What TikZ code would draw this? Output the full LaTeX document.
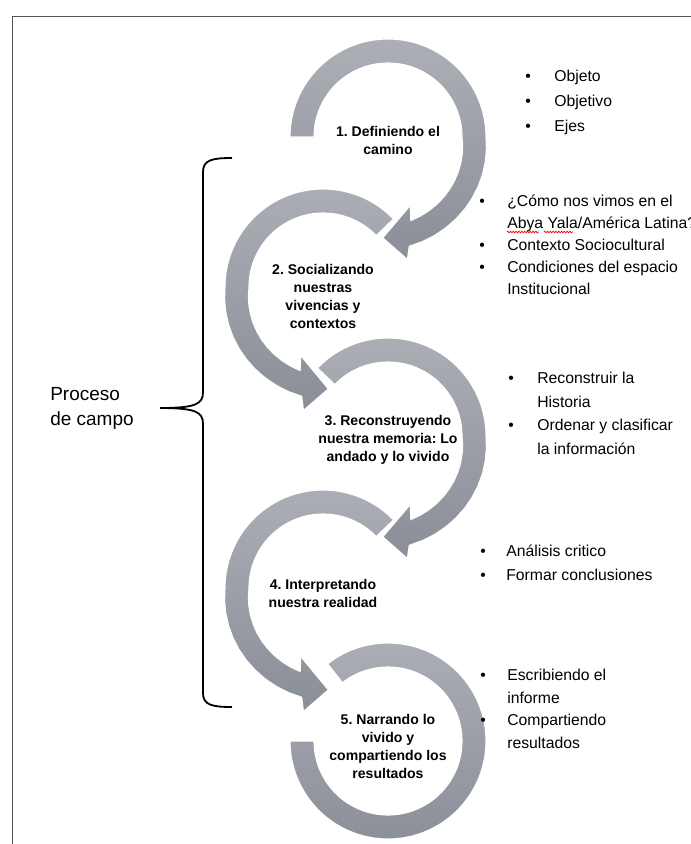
\documentclass[tikz,border=0pt]{standalone}
\usepackage{fontspec}
\setmainfont{Liberation Sans}
\usetikzlibrary{positioning,decorations.pathmorphing}
\definecolor{grisclaro}{RGB}{172,175,182}
\definecolor{grisoscuro}{RGB}{138,142,151}
\definecolor{marco}{RGB}{85,85,85}
\newcommand{\vin}[1][0.7cm]{\makebox[#1][l]{\textbullet}}
\newcommand{\sinvin}[1][0.7cm]{\hspace*{#1}}
\frenchspacing
\begin{document}
\begin{tikzpicture}[x=0.025cm, y=0.025cm,
    anillo/.style={top color=grisclaro, bottom color=grisoscuro, draw=white, line width=0.8pt},
    paso/.style={font=\fontsize{10}{12.8}\selectfont\bfseries, align=center, inner sep=0pt},
    lista/.style={font=\fontsize{11.2}{15.6}\selectfont, align=left, anchor=north west, inner sep=0pt},
    ortografia/.style={red, line width=0.5pt, decorate, decoration={zigzag, amplitude=0.6pt, segment length=2pt}}]
    \useasboundingbox (0,0) rectangle (691,-844);
    \fill[white] (0,0) rectangle (691,-844);
    \clip (0,0) rectangle (691,-844);
    \draw[marco, line width=0.7pt] (12,-860) -- (12,-16) -- (720,-16);
    %rings, from the bottom up
    \begin{scope}[shift={(388,-741)}]
        \path[anillo] (128:98) arc[start angle=128, end angle=-180, radius=98] -- (180:74) arc[start angle=-180, end angle=128, radius=74] -- cycle;
    \end{scope}
    \begin{scope}[shift={(323,-588)}]
        \path[anillo] (44:98) arc[start angle=44, end angle=180, radius=98] -- plot[domain=180:259, samples=12] (\x:{98+13*(\x-180)/77}) -- (261:125) -- (273:102) -- (252:72) -- plot[domain=254.7:180, samples=12] (\x:{74+13*(\x-180)/77}) arc[start angle=180, end angle=44, radius=74] -- cycle;
    \end{scope}
    \begin{scope}[shift={(388,-436)}]
        \path[anillo] (136:98) arc[start angle=136, end angle=0, radius=98] -- plot[domain=0:-79, samples=12] (\x:{98-13*\x/77}) -- (-81:124) -- (-93:101) -- (-72:72) -- plot[domain=-74.7:0, samples=12] (\x:{74-13*\x/77}) arc[start angle=0, end angle=136, radius=74] -- cycle;
    \end{scope}
    \begin{scope}[shift={(323,-287)}]
        \path[anillo] (44:98) arc[start angle=44, end angle=180, radius=98] -- plot[domain=180:259, samples=12] (\x:{98+13*(\x-180)/77}) -- (261:125) -- (273:102) -- (252:72) -- plot[domain=254.7:180, samples=12] (\x:{74+13*(\x-180)/77}) arc[start angle=180, end angle=44, radius=74] -- cycle;
    \end{scope}
    \begin{scope}[shift={(388,-137)}]
        \path[anillo] (180:98) arc[start angle=180, end angle=0, radius=98] -- plot[domain=0:-79, samples=12] (\x:{98-13*\x/77}) -- (-81:124) -- (-93:101) -- (-72:72) -- plot[domain=-74.7:0, samples=12] (\x:{74-13*\x/77}) arc[start angle=0, end angle=180, radius=74] -- cycle;
    \end{scope}
    %steps
    \node[paso] (paso1) at (388,-140) {1. Definiendo el\\camino};
    \node[paso] (paso2) at (323,-296) {2. Socializando\\nuestras\\vivencias y\\contextos};
    \node[paso] (paso3) at (388,-440) {3. Reconstruyendo\\nuestra memoria: Lo\\andado y lo vivido};
    \node[paso] (paso4) at (323,-593) {4. Interpretando\\nuestra realidad};
    \node[paso] (paso5) at (388,-746) {5. Narrando lo\\vivido y\\compartiendo los\\resultados};
    %lists
    \node[lista, font=\fontsize{11.2}{17.8}\selectfont] (lista1) at (525,-70) {\vin[0.725cm]Objeto\\\vin[0.725cm]Objetivo\\\vin[0.725cm]Ejes};
    \node[lista] (lista2) at (479,-195) {\vin¿Cómo nos vimos en el\\\sinvin Abya Yala/América Latina?\\\vin Contexto Sociocultural\\\vin Condiciones del espacio\\\sinvin Institucional};
    \draw[ortografia] (507,-232) -- (539,-232);
    \draw[ortografia] (544,-232) -- (573,-232);
    \node[lista, font=\fontsize{11.2}{16.7}\selectfont] (lista3) at (508,-372) {\vin[0.725cm]Reconstruir la\\\sinvin[0.725cm]Historia\\\vin[0.725cm]Ordenar y clasificar\\\sinvin[0.725cm]la información};
    \node[lista, font=\fontsize{11.2}{17}\selectfont] (lista4) at (480,-545) {\vin[0.65cm]Análisis critico\\\vin[0.65cm]Formar conclusiones};
    \node[lista, font=\fontsize{11.2}{16.1}\selectfont] (lista5) at (480,-669) {\vin[0.675cm]Escribiendo el\\\sinvin[0.675cm]informe\\\vin[0.675cm]Compartiendo\\\sinvin[0.675cm]resultados};
    %brace
    \node[font=\fontsize{13.5}{17.8}\selectfont, align=left, anchor=west, inner sep=0pt] (proceso) at (50,-408) {Proceso\\de campo};
    \coordinate (llave) at (160,-408);
    \draw[line width=1.3pt] (232,-158) .. controls (212,-158) and (203,-160) .. (203,-172) -- (203,-392) .. controls (203,-404) and (196,-408) .. (llave);
    \draw[line width=1.3pt] (232,-707) .. controls (212,-707) and (203,-705) .. (203,-693) -- (203,-424) .. controls (203,-412) and (196,-408) .. (llave);
\end{tikzpicture}
\end{document}
